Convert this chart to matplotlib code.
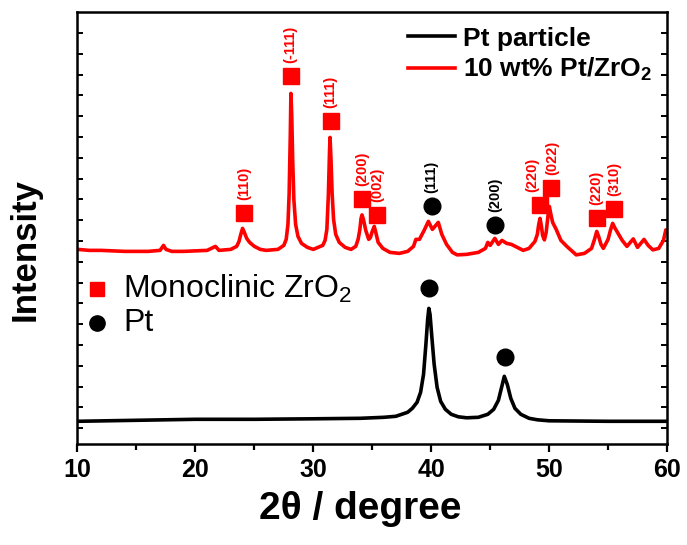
#!/usr/bin/env python3
"""
XRD patterns: Pt particle vs 10 wt% Pt/ZrO2.
"""
import matplotlib
matplotlib.use("Agg")
import matplotlib.pyplot as plt
import numpy as np

# --- data (2theta in degree, intensity in a.u.) ---
pt_tt = [10, 15, 20, 25, 30, 34, 36, 37, 37.5, 38, 38.4, 38.8, 39.1, 39.35, 39.55,
         39.7, 39.8, 39.9, 40.05, 40.25, 40.5, 40.8, 41.2, 41.7, 42.3, 43, 44, 44.8,
         45.3, 45.7, 45.95, 46.2, 46.45, 46.75, 47.1, 47.6, 48.3, 49, 50, 55, 60]
pt_int = [23, 24, 25, 25, 25.5, 26, 27, 28, 30, 32, 36, 42, 52, 70, 100,
          125, 136, 130, 108, 80, 57, 43, 35, 30, 27.5, 26.5, 27, 30,
          35, 44, 56, 68, 60, 46, 36, 30, 26, 24.5, 23.5, 23, 23]

zr_tt = [10, 11, 12, 13, 14, 15, 16, 17, 17.3, 17.5, 18, 19, 20, 21, 21.7, 22, 23,
         23.5, 23.7, 23.85, 24.0, 24.15, 24.35, 24.6, 25.0, 25.5, 26, 27, 27.5, 27.7,
         27.85, 27.95, 28.05, 28.1, 28.17, 28.25, 28.35, 28.5, 28.7, 29.0, 29.5, 30,
         30.8, 31.0, 31.15, 31.28, 31.38, 31.42, 31.5, 31.6, 31.72, 31.9, 32.2, 32.7,
         33.2, 33.6, 33.8, 33.95, 34.05, 34.13, 34.25, 34.45, 34.7, 34.85, 35.0, 35.17,
         35.3, 35.5, 35.9, 36.5, 37.3, 38, 38.5, 38.7, 39.0, 39.4, 39.76, 40.1, 40.6,
         40.9, 41.3, 41.8, 42.2, 43, 44, 44.6, 44.8, 45.0, 45.4, 45.7, 46.0, 46.4, 46.8,
         47.3, 47.8, 48.3, 48.8, 49.0, 49.12, 49.23, 49.35, 49.45, 49.6, 49.75, 49.9,
         50.02, 50.15, 50.3, 50.6, 51.0, 51.5, 52.3, 53.0, 53.6, 53.85, 54.04, 54.2,
         54.4, 54.6, 55.0, 55.2, 55.39, 55.6, 55.8, 56.2, 56.6, 57.14, 57.5, 58.05,
         58.4, 58.8, 59.3, 59.7, 59.9, 60]
zr_int = [195, 194, 194, 193.5, 193, 193, 193, 194, 199, 195, 193, 193, 193.5, 194,
          198, 194, 195, 198, 203, 210, 216, 212, 206, 202, 198, 195, 194, 195, 199,
          205, 220, 250, 310, 351, 330, 285, 245, 220, 208, 201, 197, 195,
          199, 204, 215, 250, 295, 307, 285, 250, 225, 210, 202, 197,
          195, 198, 205, 215, 226, 229.5, 225, 214, 205, 207, 213, 218,
          212, 202, 196, 192, 191, 193, 198, 205, 205, 214, 223, 215, 222,
          210, 200, 192, 189.5, 190, 192, 196, 202, 199, 206, 200, 204, 201, 200,
          197, 194, 196, 203, 210, 220, 226, 218, 209, 204.5, 212, 228,
          238, 230, 222, 215, 204, 198, 189.5, 191, 196, 205, 213, 208,
          200, 196, 205, 214, 221, 216, 212, 204, 198, 205.5, 197, 205,
          199, 194.5, 196, 204, 214.5, 214]

# monoclinic ZrO2 reflections (marker position + hkl)
zr_mark_tt = [24.15, 28.08, 31.48, 34.13, 35.4, 49.23, 50.16, 54.04, 55.53]
zr_mark_int = [231, 368, 323, 245.5, 229.5, 239, 256, 226, 235.5]
zr_hkl = ["(110)", "(-111)", "(111)", "(200)", "(002)", "(220)", "(022)", "(220)", "(310)"]

# Pt reflections on the supported sample
pt_mark_tt = [40.04, 45.41]
pt_mark_int = [238, 219.5]
pt_hkl = ["(111)", "(200)"]

# Pt reflections on the bare particle
ptp_mark_tt = [39.81, 46.25]
ptp_mark_int = [156, 87]

RED = "#ff0000"

plt.rcParams["font.family"] = ["Liberation Sans", "DejaVu Sans"]
plt.rcParams["mathtext.fontset"] = "custom"
plt.rcParams["mathtext.rm"] = "Liberation Sans"
plt.rcParams["mathtext.bf"] = "Liberation Sans:bold"


def main() -> None:
    fig = plt.figure(figsize=(6.87, 5.45), dpi=100)
    ax = fig.add_axes([0.1128, 0.1848, 0.8581, 0.7932])

    ax.plot(pt_tt, pt_int, color="black", lw=2.6, label="Pt particle")
    ax.plot(zr_tt, zr_int, color=RED, lw=2.6, label="10 wt% Pt/ZrO$_\\mathbf{2}$")

    ax.plot(zr_mark_tt, zr_mark_int, "s", color=RED, ms=12, ls="none")
    # the first (220) label sits a little left so it clears (022)
    dx = {5: -5.5, 6: 1.0}
    for i, (x, y, t) in enumerate(zip(zr_mark_tt, zr_mark_int, zr_hkl)):
        ax.annotate(t, (x, y), xytext=(dx.get(i, 0), 9.5), textcoords="offset points",
                    rotation=90, ha="center", va="bottom", color=RED, fontsize=10.5,
                    fontweight="bold")
    ax.plot(pt_mark_tt, pt_mark_int, "o", color="black", ms=12, ls="none")
    for x, y, t in zip(pt_mark_tt, pt_mark_int, pt_hkl):
        ax.annotate(t, (x, y), xytext=(0, 9.5), textcoords="offset points", rotation=90,
                    ha="center", va="bottom", color="black", fontsize=10.5, fontweight="bold")
    ax.plot(ptp_mark_tt, ptp_mark_int, "o", color="black", ms=12, ls="none")

    # phase key
    ax.plot([11.66], [155.5], "s", color=RED, ms=10)
    ax.text(13.9, 156, "Monoclinic ZrO$_2$", fontsize=23, va="center", ha="left")
    ax.plot([11.66], [121.5], "o", color="black", ms=11)
    ax.text(13.9, 121.5, "Pt", fontsize=23, va="center", ha="left")

    ax.legend(loc="upper right", bbox_to_anchor=(1.0, 1.0), frameon=False,
              prop={"size": 19, "weight": "bold"}, handlelength=1.8, handletextpad=0.3,
              labelspacing=0.2, borderaxespad=0.15)

    ax.set_xlim(10, 60)
    ax.set_ylim(0, 432.5)
    ax.set_xticks(np.arange(10, 61, 10))
    ax.set_xticks(np.arange(15, 60, 10), minor=True)
    ax.set_yticks(np.arange(16.2, 432, 20.8))
    ax.set_yticklabels([])
    ax.tick_params(axis="x", which="major", direction="out", length=6, width=1.6,
                   labelsize=18, pad=4)
    ax.tick_params(axis="x", which="minor", direction="out", length=4, width=1.6)
    ax.tick_params(axis="y", direction="in", length=4, width=1.4, left=True, right=True)
    for lab in ax.get_xticklabels():
        lab.set_fontweight("bold")
    for s in ax.spines.values():
        s.set_linewidth(1.8)

    ax.set_xlabel("2θ / degree", fontsize=28, fontweight="bold", labelpad=6, x=0.48)
    ax.set_ylabel("Intensity", fontsize=25, fontweight="bold", labelpad=22, y=0.45)

    fig.savefig("out.png", dpi=100)
    plt.close(fig)


if __name__ == "__main__":
    main()
